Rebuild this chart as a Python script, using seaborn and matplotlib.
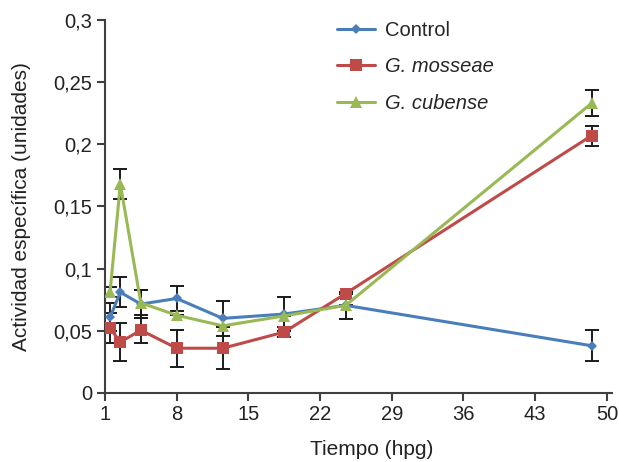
import matplotlib
matplotlib.use("Agg")
import matplotlib.pyplot as plt
import seaborn as sns
import pandas as pd
import numpy as np

# Data
tiempo = [1.5, 2.5, 4.5, 8, 12.5, 18.5, 24.5, 48.5]
control = [0.061, 0.081, 0.0715, 0.076, 0.060, 0.0635, 0.0705, 0.038]
control_err = [0.011, 0.012, 0.011, 0.010, 0.014, 0.014, 0.011, 0.0125]
mosseae = [0.052, 0.041, 0.0505, 0.036, 0.036, 0.049, 0.080, 0.207]
mosseae_err = [0.012, 0.015, 0.010, 0.015, 0.017, 0.004, 0.0, 0.008]
cubense = [0.0815, 0.168, 0.0725, 0.0625, 0.054, 0.062, 0.0705, 0.233]
cubense_err = [0.004, 0.012, 0.010, 0.0, 0.0, 0.0, 0.0, 0.0105]

series_names = ["Control", "G. mosseae", "G. cubense"]
xticks = [1, 8, 15, 22, 29, 36, 43, 50]
yticks = [0, 0.05, 0.1, 0.15, 0.2, 0.25, 0.3]
ytick_labels = ["0", "0,05", "0,1", "0,15", "0,2", "0,25", "0,3"]

colors = {"Control": "#4A7EBB", "G. mosseae": "#BE4B48", "G. cubense": "#98B954"}
markers = {"Control": "D", "G. mosseae": "s", "G. cubense": "^"}
sizes = {"Control": 5, "G. mosseae": 8, "G. cubense": 8}

rows = []
for name, vals, errs in zip(series_names, [control, mosseae, cubense],
                            [control_err, mosseae_err, cubense_err]):
    for t, v, e in zip(tiempo, vals, errs):
        rows.append({"Tiempo": t, "Valor": v, "Err": e, "Serie": name})
df = pd.DataFrame(rows)

sns.set_style("ticks")
plt.rcParams["font.family"] = ["Liberation Sans", "DejaVu Sans"]
FS = 14.5

fig = plt.figure(figsize=(6.19, 4.62), dpi=100)
ax = fig.add_axes([0.1696, 0.1494, 0.8191, 0.8073])

# error bars
for name in series_names:
    sub = df[df["Serie"] == name]
    ax.errorbar(sub["Tiempo"], sub["Valor"], yerr=sub["Err"], fmt="none",
                ecolor="#1a1a1a", elinewidth=1.4, capsize=5, capthick=1.4, zorder=1)

for name in series_names:
    sub = df[df["Serie"] == name]
    sns.lineplot(data=sub, x="Tiempo", y="Valor", ax=ax, color=colors[name],
                 marker=markers[name], markersize=sizes[name], markeredgewidth=0,
                 linewidth=2.2, label=name, zorder=3, errorbar=None)

ax.set_xlim(1, 50.5)
ax.set_ylim(0, 0.3)
ax.set_xticks(xticks)
ax.set_xticklabels([str(x) for x in xticks], fontsize=FS, color="#222222")
ax.set_yticks(yticks)
ax.set_yticklabels(ytick_labels, fontsize=FS, color="#222222")
ax.tick_params(axis="both", direction="out", length=6, width=1.5, color="#404040", pad=3)
for s in ["top", "right"]:
    ax.spines[s].set_visible(False)
for s in ["left", "bottom"]:
    ax.spines[s].set_color("#404040")
    ax.spines[s].set_linewidth(1.5)

ax.set_xlabel("Tiempo (hpg)", fontsize=FS + 0.5, color="#222222")
ax.xaxis.set_label_coords(0.527, -0.125)
ax.set_ylabel("Actividad específica (unidades)", fontsize=FS + 0.5, color="#222222", labelpad=16)

leg = ax.legend(loc="upper left", bbox_to_anchor=(0.421, 1.045), frameon=False,
                fontsize=FS, handlelength=1.9, handletextpad=0.5, labelspacing=0.85)
for txt in leg.get_texts()[1:]:
    txt.set_style("italic")

fig.savefig("out.png", dpi=100)
